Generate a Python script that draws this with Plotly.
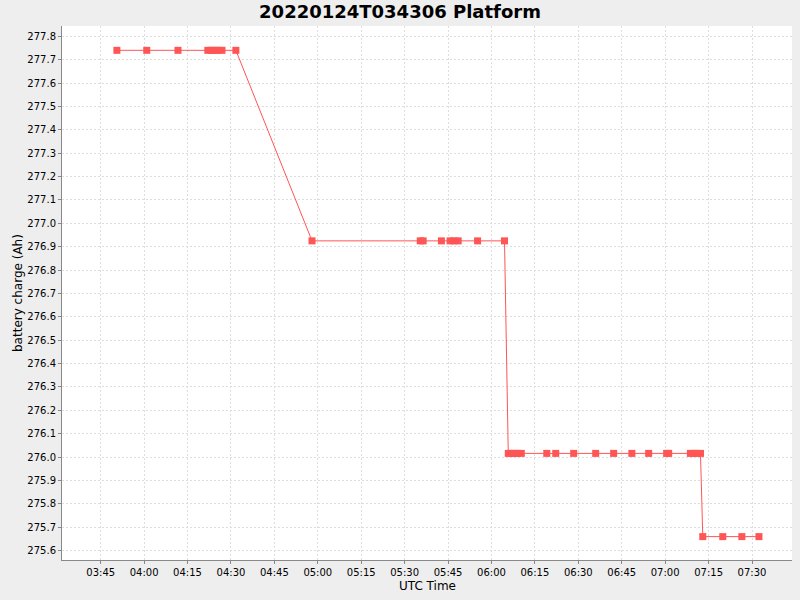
import plotly.graph_objects as go

day = "2022-01-24 "
times = [
    "03:50:36", "04:00:54", "04:11:42", "04:22:00", "04:23:12", "04:24:24", "04:25:30", "04:26:54", "04:31:42",
    "04:58:00", "05:35:24", "05:36:24", "05:42:42", "05:45:42", "05:47:06", "05:48:30", "05:55:12", "06:04:30",
    "06:05:48", "06:06:48", "06:07:54", "06:08:54", "06:10:18", "06:19:06", "06:22:12", "06:28:24", "06:36:00",
    "06:42:12", "06:48:30", "06:54:18", "07:00:30", "07:01:12", "07:08:42", "07:09:42", "07:10:48", "07:12:12",
    "07:13:00", "07:19:54", "07:26:30", "07:32:24",
]
charge = [
    277.74, 277.74, 277.74, 277.74, 277.74, 277.74, 277.74, 277.74, 277.74,
    276.925, 276.925, 276.925, 276.925, 276.925, 276.925, 276.925, 276.925, 276.925,
    276.016, 276.016, 276.016, 276.016, 276.016, 276.016, 276.016, 276.016, 276.016,
    276.016, 276.016, 276.016, 276.016, 276.016, 276.016, 276.016, 276.016, 276.016,
    275.66, 275.66, 275.66, 275.66,
]
x_tick_vals = ["03:45", "04:00", "04:15", "04:30", "04:45", "05:00", "05:15", "05:30",
               "05:45", "06:00", "06:15", "06:30", "06:45", "07:00", "07:15", "07:30"]
y_ticks = [round(275.6 + 0.1 * i, 1) for i in range(23)]

x = [day + t for t in times]

fig = go.Figure()
fig.add_trace(go.Scatter(
    x=x, y=charge, mode="lines+markers",
    line=dict(color="#FF5555", width=1),
    marker=dict(symbol="square", size=7, color="#FF5555"),
    showlegend=False,
))

font = "DejaVu Sans"
fig.update_layout(
    width=800, height=600,
    paper_bgcolor="#EEEEEE", plot_bgcolor="#FFFFFF",
    margin=dict(l=62, r=8, t=26, b=40),
    title=dict(text="<b>20220124T034306 Platform</b>", x=0.5, xanchor="center",
               y=0.98, yanchor="middle", font=dict(family=font, size=18, color="#000000")),
    font=dict(family=font, color="#000000"),
    annotations=[
        dict(text="UTC Time", xref="paper", yref="paper", x=0.5, y=0, yshift=-26,
             xanchor="center", yanchor="middle", showarrow=False,
             font=dict(family=font, size=12, color="#000000")),
        dict(text="battery charge (Ah)", xref="paper", yref="paper", x=0, y=0.5, xshift=-44,
             xanchor="center", yanchor="middle", textangle=-90, showarrow=False,
             font=dict(family=font, size=12, color="#000000")),
    ],
)
fig.update_xaxes(
    type="date", automargin=False,
    range=[day + "03:31:38", day + "07:43:49"],
    tickvals=[day + t for t in x_tick_vals], ticktext=x_tick_vals,
    showgrid=True, gridcolor="#DDDDDD", griddash="2px,2px", gridwidth=1,
    showline=True, linecolor="#888888", linewidth=1,
    ticks="outside", ticklen=3, tickcolor="#888888",
    tickfont=dict(family=font, size=10),
    zeroline=False,
)
fig.update_yaxes(
    automargin=False,
    range=[275.560, 277.844],
    tickvals=y_ticks, ticktext=[f"{v:.1f}" for v in y_ticks],
    showgrid=True, gridcolor="#DDDDDD", griddash="2px,2px", gridwidth=1,
    showline=True, linecolor="#888888", linewidth=1,
    ticks="outside", ticklen=3, tickcolor="#888888",
    tickfont=dict(family=font, size=10),
    zeroline=False,
)

fig.write_html("out.html", config={"displayModeBar": False},
               post_script="document.body.style.margin='0';")
